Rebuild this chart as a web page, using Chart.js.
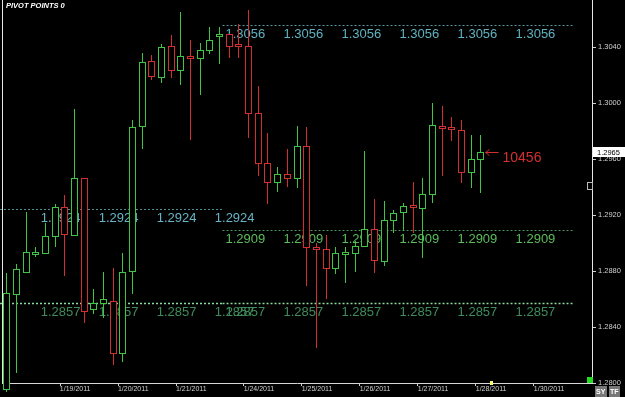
<!DOCTYPE html>
<html>
<head>
<meta charset="utf-8">
<script src="https://cdn.jsdelivr.net/npm/chart.js@4.4.0/dist/chart.umd.min.js"></script>
<style>
    html, body { margin: 0; padding: 0; background: #000; }
    #wrap { width: 625px; height: 397px; }
</style>
</head>
<body>
<div id="wrap"><canvas id="myChart" width="625" height="397"></canvas></div>
<script>
// 4h candles, 1/18/2011 .. 1/28/2011
const opens = [1.2795, 1.28629, 1.28786, 1.28914, 1.28921, 1.29043, 1.29257, 1.2905, 1.29464, 1.28521,
    1.28564, 1.28586, 1.28207, 1.28793, 1.29829, 1.303, 1.30179, 1.30407, 1.30229, 1.30336,
    1.30314, 1.30371, 1.30471, 1.30493, 1.30421, 1.30407, 1.29929, 1.29571, 1.29429, 1.29493,
    1.29457, 1.29693, 1.28971, 1.28957, 1.28814, 1.28914, 1.28921, 1.28971, 1.291, 1.28864,
    1.29157, 1.29214, 1.29264, 1.29243, 1.29343, 1.29829, 1.29814, 1.29807, 1.295, 1.29593];
const highs = [1.28786, 1.2885, 1.29221, 1.28971, 1.29143, 1.29279, 1.29343, 1.29957, 1.29464, 1.28671,
    1.28793, 1.28821, 1.28929, 1.29879, 1.30357, 1.30343, 1.30421, 1.30486, 1.3065, 1.3045,
    1.30429, 1.30543, 1.30543, 1.30493, 1.30564, 1.30664, 1.30121, 1.29786, 1.29543, 1.29671,
    1.29836, 1.29829, 1.29, 1.29057, 1.28971, 1.28971, 1.29014, 1.29657, 1.29314, 1.293,
    1.29236, 1.29286, 1.29436, 1.29464, 1.3, 1.29979, 1.299, 1.29879, 1.29771, 1.29771];
const lows = [1.27936, 1.28071, 1.28786, 1.289, 1.28921, 1.28971, 1.28764, 1.2905, 1.28429, 1.28493,
    1.28464, 1.28129, 1.2815, 1.28636, 1.29671, 1.30164, 1.30143, 1.30179, 1.30129, 1.29736,
    1.30057, 1.3035, 1.30279, 1.30321, 1.30321, 1.2975, 1.29479, 1.29279, 1.29364, 1.294,
    1.29393, 1.28693, 1.2825, 1.286, 1.28779, 1.28714, 1.28793, 1.28971, 1.28786, 1.28836,
    1.29071, 1.29086, 1.29071, 1.28893, 1.29286, 1.29479, 1.29729, 1.29429, 1.29393, 1.29357];
const closes = [1.28643, 1.28814, 1.28936, 1.28936, 1.2905, 1.29257, 1.29057, 1.29464, 1.28507, 1.28571,
    1.286, 1.28207, 1.28793, 1.29829, 1.30293, 1.30186, 1.304, 1.30229, 1.30336, 1.30314,
    1.30379, 1.3045, 1.30493, 1.304, 1.304, 1.29921, 1.29564, 1.29429, 1.29493, 1.29457,
    1.29693, 1.28964, 1.2895, 1.28814, 1.28929, 1.28929, 1.28979, 1.291, 1.28871, 1.29164,
    1.29214, 1.29264, 1.2925, 1.2935, 1.29843, 1.29814, 1.29807, 1.295, 1.296, 1.2965];

const totalSlots = 61; // incl. empty future slots
const dayStarts = [6, 12, 18, 25, 31, 37, 43, 49, 55];
const dayLabels = ["1/19/2011", "1/20/2011", "1/21/2011", "1/24/2011", "1/25/2011",
    "1/26/2011", "1/27/2011", "1/28/2011", "1/30/2011"];

// pivot levels: old period until pivotBreak, new period after
const pivotsOld = [1.2924, 1.2857];
const pivotsNew = [1.3056, 1.2909, 1.2857];
const pivotBreak = 22.8;
const pivotEnd = 59;
const counterText = "10456";

const GREEN = "#3fc444";
const RED = "#d23030";

const labels = [];
for (let i = 0; i < totalSlots; i++) labels.push(i);
const candleColors = closes.map((c, i) => (c >= opens[i] ? GREEN : RED));

Chart.defaults.font.family = '"Liberation Sans", Arial, sans-serif';

// snap bars to whole pixels so the hollow candles stay crisp
const snapPlugin = {
    id: "snap",
    afterDatasetsUpdate(chart) {
        chart.data.datasets.forEach((ds, di) => {
            chart.getDatasetMeta(di).data.forEach((el) => {
                el.x = Math.floor(el.x) + 0.5;
                el.y = Math.round(el.y);
                el.base = Math.round(el.base);
            });
        });
    },
};

const pivotPlugin = {
    id: "pivots",
    beforeDatasetsDraw(chart) {
        const { ctx, scales } = chart;
        const px = (b) => scales.x.getPixelForValue(b - 0.5);
        const drawLevel = (level, b0, b1, first, lineColor, textColor, lw) => {
            const yy = Math.round(scales.y.getPixelForValue(level)) + 0.5;
            ctx.save();
            ctx.strokeStyle = lineColor;
            ctx.lineWidth = lw;
            ctx.setLineDash([2, 2]);
            ctx.beginPath();
            ctx.moveTo(b0 <= 0 ? 0 : px(b0), yy);
            ctx.lineTo(px(b1), yy);
            ctx.stroke();
            ctx.fillStyle = textColor;
            ctx.font = '13px "Liberation Sans"';
            ctx.textBaseline = "alphabetic";
            for (let b = first; b < b1; b += 6) {
                ctx.fillText(level.toFixed(4), px(b), yy + 12);
            }
            ctx.restore();
        };
        drawLevel(pivotsOld[0], 0, pivotBreak, 4, "#4f8c96", "#68b4c6", 1);
        drawLevel(pivotsOld[1], 0, pivotBreak, 4, "#8ad89a", "#3f8c5c", 1.5);
        drawLevel(pivotsNew[0], pivotBreak, pivotEnd, pivotBreak + 0.3, "#5a96a0", "#5fb2c0", 1);
        drawLevel(pivotsNew[1], pivotBreak, pivotEnd, pivotBreak + 0.3, "#4f9458", "#5cbc5c", 1);
        drawLevel(pivotsNew[2], pivotBreak, pivotEnd, pivotBreak + 0.3, "#8ad89a", "#3f8c5c", 1.5);
    },
    afterDraw(chart) {
        const { ctx, chartArea, scales } = chart;
        const last = closes.length - 1;
        const cx = Math.floor(scales.x.getPixelForValue(last)) + 0.5;
        const cy = Math.round(scales.y.getPixelForValue(closes[last])) + 0.5;
        ctx.save();
        // arrow + counter
        ctx.strokeStyle = RED;
        ctx.lineWidth = 1;
        ctx.beginPath();
        ctx.moveTo(cx + 5, cy);
        ctx.lineTo(cx + 18, cy);
        ctx.moveTo(cx + 5, cy);
        ctx.lineTo(cx + 9, cy - 3);
        ctx.moveTo(cx + 5, cy);
        ctx.lineTo(cx + 9, cy + 3);
        ctx.stroke();
        ctx.fillStyle = RED;
        ctx.font = '14px "Liberation Sans"';
        ctx.textBaseline = "middle";
        ctx.fillText(counterText, cx + 22, cy + 6);

        // current price box
        ctx.fillStyle = "#fff";
        ctx.fillRect(chartArea.right + 1, cy - 5.5, 32, 10);
        ctx.fillStyle = "#000";
        ctx.font = '7.5px "Liberation Sans"';
        ctx.fillText(closes[last].toFixed(4), chartArea.right + 5, cy);

        // title
        ctx.fillStyle = "#fff";
        ctx.font = 'bold italic 7.5px "Liberation Sans"';
        ctx.textBaseline = "top";
        ctx.fillText("PIVOT POINTS 0", 6, 2);

        // small widgets
        ctx.strokeStyle = "#bbb";
        ctx.strokeRect(587.5, 182.5, 5, 7);
        ctx.fillStyle = "#22dd22";
        ctx.fillRect(587, 377, 6, 6);
        ctx.fillStyle = "#ffff66";
        ctx.fillRect(490, 381, 3, 4);
        ctx.fillStyle = "#777";
        ctx.fillRect(595, 386, 12, 11);
        ctx.fillRect(609, 386, 11, 11);
        ctx.fillStyle = "#fff";
        ctx.font = 'bold 7px "Liberation Sans"';
        ctx.textBaseline = "middle";
        ctx.fillText("SY", 596, 392);
        ctx.fillText("TF", 610, 392);
        ctx.restore();
    },
};

const canvas = document.getElementById("myChart");
const ctx = canvas.getContext("2d");
const myChart = new Chart(ctx, {
    type: "bar",
    data: {
        labels: labels,
        datasets: [
            {
                data: opens.map((o, i) => [o, closes[i]]),
                backgroundColor: "#000",
                borderColor: candleColors,
                borderWidth: 1,
                borderSkipped: false,
                inflateAmount: 0,
                barThickness: 7,
                minBarLength: 3,
                grouped: false,
                clip: false,
            },
            {
                data: lows.map((l, i) => [l, highs[i]]),
                backgroundColor: candleColors,
                borderWidth: 0,
                inflateAmount: 0,
                barThickness: 1,
                grouped: false,
                clip: false,
            },
        ],
    },
    options: {
        responsive: false,
        animation: false,
        layout: { padding: 0 },
        plugins: {
            legend: { display: false },
            tooltip: { enabled: false },
        },
        scales: {
            x: {
                grid: {
                    drawOnChartArea: false,
                    tickLength: 3,
                    color: (c) => (dayStarts.includes(c.index) ? "#cfcfcf" : "rgba(0,0,0,0)"),
                },
                border: { color: "#d8d8d8" },
                ticks: {
                    autoSkip: false,
                    maxRotation: 0,
                    minRotation: 0,
                    align: "start",
                    labelOffset: -5,
                    padding: -1,
                    color: "#cfcfcf",
                    font: { size: 7 },
                    callback: (v, i) => {
                        const k = dayStarts.indexOf(i);
                        return k >= 0 ? dayLabels[k] : "";
                    },
                },
                afterFit: (s) => {
                    s.height = 14;
                    s.paddingLeft = 0;
                    s.paddingRight = 0;
                },
            },
            y: {
                position: "right",
                min: 1.28,
                max: 1.30736,
                grid: { drawOnChartArea: false, tickLength: 4, color: "#cfcfcf" },
                border: { color: "#e6e6e6" },
                ticks: {
                    stepSize: 0.004,
                    includeBounds: false,
                    padding: 2,
                    color: "#d0d0d0",
                    font: { size: 7.5 },
                    callback: (v) => v.toFixed(4),
                },
                afterFit: (s) => {
                    s.width = 33;
                    s.paddingTop = 0;
                    s.paddingBottom = 0;
                },
            },
            yLeft: {
                position: "left",
                grid: { drawOnChartArea: false, drawTicks: false },
                border: { color: "#e6e6e6" },
                ticks: { display: false },
                afterFit: (s) => {
                    s.width = 2;
                    s.paddingTop = 0;
                    s.paddingBottom = 0;
                },
            },
        },
    },
    plugins: [snapPlugin, pivotPlugin],
});
</script>
</body>
</html>
